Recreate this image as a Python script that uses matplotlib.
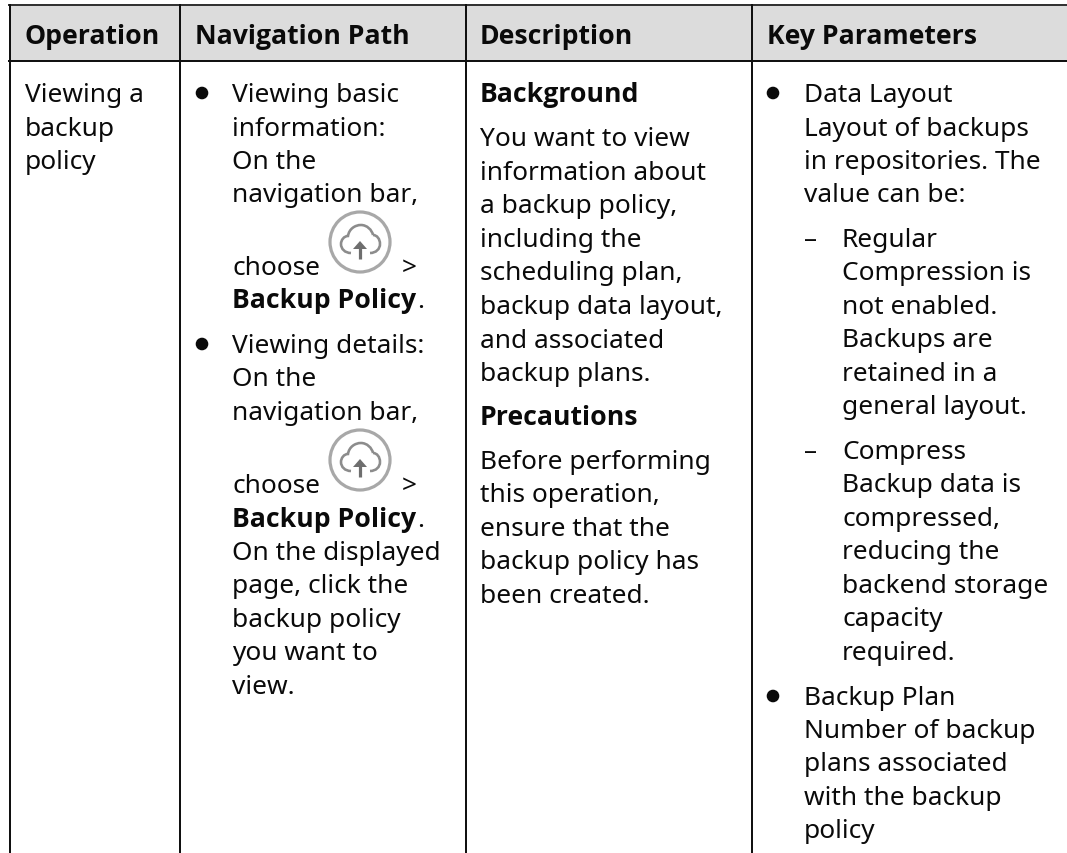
import numpy as np
import matplotlib
matplotlib.use('Agg')
import matplotlib.pyplot as plt
from matplotlib.patches import Circle, PathPatch, Rectangle
from matplotlib.path import Path

plt.rcParams['font.family'] = ['Noto Sans', 'DejaVu Sans']

W = 1067; H = 854
FS = 18.9
LW = 2.0 * 72 / 100

headers = ['Operation', 'Navigation Path', 'Description', 'Key Parameters']
header_x = [25, 195, 480, 767]
col_lines = [9.5, 179.5, 465.5, 751.5]

operation_lines = ['Viewing a', 'backup', 'policy']

nav_lines_1 = ['Viewing basic', 'information:', 'On the', 'navigation bar,']
nav_lines_2 = ['Viewing details:', 'On the', 'navigation bar,']
nav_lines_3 = ['On the displayed', 'page, click the', 'backup policy', 'you want to', 'view.']

desc_head_1 = 'Background'
desc_lines_1 = ['You want to view', 'information about', 'a backup policy,', 'including the',
                'scheduling plan,', 'backup data layout,', 'and associated', 'backup plans.']
desc_head_2 = 'Precautions'
desc_lines_2 = ['Before performing', 'this operation,', 'ensure that the', 'backup policy has',
                'been created.']

key_lines_1 = ['Data Layout', 'Layout of backups', 'in repositories. The', 'value can be:']
key_lines_2 = ['Regular', 'Compression is', 'not enabled.', 'Backups are', 'retained in a',
               'general layout.']
key_lines_3 = ['Compress', 'Backup data is', 'compressed,', 'reducing the', 'backend storage',
               'capacity', 'required.']
key_lines_4 = ['Backup Plan', 'Number of backup', 'plans associated', 'with the backup', 'policy']

fig = plt.figure(figsize=(W / 100, H / 100), dpi=100, facecolor='white')
ax = fig.add_axes([0, 0, 1, 1])
ax.set_xlim(0, W)
ax.set_ylim(H, 0)
ax.axis('off')


def put(x, y, s, bold=False):
    if bold:
        return ax.text(x, y, s, fontsize=19.2, color='#0a0a0a', va='baseline', ha='left',
                       family=['Open Sans', 'DejaVu Sans'], fontweight='bold')
    return ax.text(x, y, s, fontsize=FS, color='#0a0a0a', va='baseline', ha='left')


def block(x, y, lines, step=33.5):
    for i, s in enumerate(lines):
        put(x, y + i * step, s)


def bullet(x, y):
    ax.add_patch(Circle((x, y), 6.3, color='#0a0a0a', lw=0))


def cloud_icon(cx, cy):
    ax.add_patch(Circle((cx, cy), 30, fill=False, ec='#a8a8a8', lw=3.2 * 72 / 100))
    # cloud outline, open at the bottom for the arrow
    codes = [Path.MOVETO] + [Path.CURVE4] * 12
    left = [(-9, 11), (-15, 11), (-19, 7), (-19, 2), (-19, -2), (-16, -6), (-12, -6),
            (-11, -13), (-5, -17), (1, -17), (7, -17), (12, -12), (13, -7)]
    right = [(13, -7), (17, -7), (20, -3), (20, 2)]
    right2 = [(20, 2), (20, 7), (16, 11), (10, 11)]
    for pts, cd in [(left, codes), (right, [Path.MOVETO] + [Path.CURVE4] * 3),
                    (right2, [Path.MOVETO] + [Path.CURVE4] * 3)]:
        ax.add_patch(PathPatch(Path([(cx + a, cy + b) for a, b in pts], cd), fill=False,
                               ec='#8c8c8c', lw=2.6 * 72 / 100))
    ax.plot([cx, cx], [cy + 17, cy + 4], color='#6e6e6e', lw=3.2 * 72 / 100, solid_capstyle='butt')
    ax.add_patch(plt.Polygon([(cx - 7, cy + 7), (cx + 7, cy + 7), (cx, cy - 1)], color='#6e6e6e', lw=0))


# header band and grid
ax.add_patch(Rectangle((9, 6), W, 56, color='#dcdcdc', lw=0))
ax.plot([9, W], [5.5, 5.5], color='#333333', lw=LW)
ax.plot([9, W], [62, 62], color='#111111', lw=LW)
for x in col_lines:
    ax.plot([x, x], [5, H], color='#111111', lw=LW, solid_capstyle='butt')

for x, s in zip(header_x, headers):
    put(x, 44, s, bold=True)

block(25, 102, operation_lines)

# navigation path column
bullet(202, 94)
block(232, 102, nav_lines_1)
put(232, 275, 'choose')
put(402, 275, '>')
cloud_icon(360, 243)
put(232, 308, 'Backup Policy', bold=True)
put(417, 308, '.')
bullet(202, 345)
block(232, 353, nav_lines_2)
put(232, 493, 'choose')
put(402, 493, '>')
cloud_icon(360, 461)
put(232, 527, 'Backup Policy', bold=True)
put(417, 527, '.')
block(232, 560, nav_lines_3)

# description column
put(480, 102, desc_head_1, bold=True)
block(480, 146, desc_lines_1, step=33.6)
put(480, 425, desc_head_2, bold=True)
block(480, 469, desc_lines_2)

# key parameters column
bullet(773, 94)
block(804, 102, key_lines_1)
put(804, 247, '–')
block(842, 247, key_lines_2)
put(804, 459, '–')
block(842, 459, key_lines_3)
bullet(773, 697)
block(804, 705, key_lines_4, step=33.2)

fig.savefig('out.png', dpi=100)
